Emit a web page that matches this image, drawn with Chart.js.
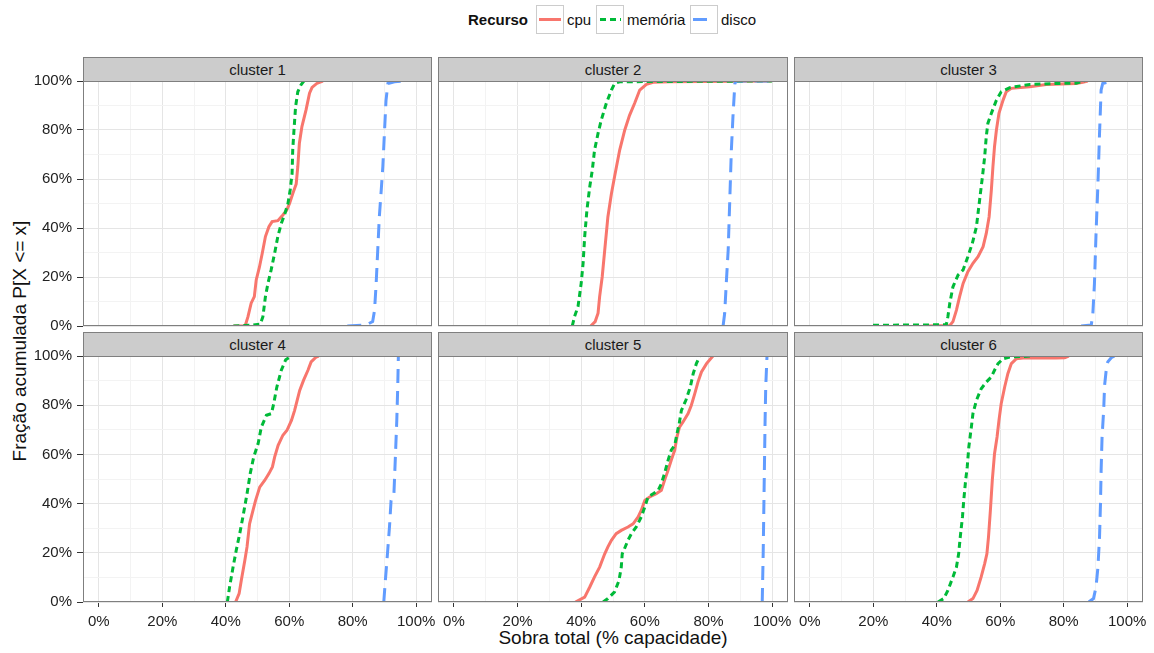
<!DOCTYPE html>
<html><head><meta charset="utf-8">
<script src="https://cdn.jsdelivr.net/npm/chart.js@4.4.0/dist/chart.umd.min.js"></script>
<style>
body{margin:0;width:1154px;height:653px;background:#fff;position:relative;overflow:hidden;font-family:"Liberation Sans",Arial,sans-serif;color:#111;}
.strip{position:absolute;background:#cccccc;border:1px solid #7f7f7f;box-sizing:border-box;text-align:center;font-size:15px;line-height:23px;color:#1a1a1a;}
canvas{position:absolute;}
.lg{position:absolute;font-size:15px;line-height:18px;top:11px;}
</style></head><body>

<div class="lg" style="left:468px;font-weight:bold;">Recurso</div>
<svg style="position:absolute;left:0;top:0" width="1154" height="40">
  <rect x="536.5" y="5.5" width="27" height="28" fill="#fff" stroke="#cccccc"/>
  <line x1="539" y1="19.5" x2="561" y2="19.5" stroke="#F8766D" stroke-width="3"/>
  <rect x="596.5" y="5.5" width="27" height="28" fill="#fff" stroke="#cccccc"/>
  <line x1="599" y1="19.5" x2="621" y2="19.5" stroke="#00BA38" stroke-width="3" stroke-dasharray="6,4" stroke-dashoffset="-1"/>
  <rect x="690.5" y="5.5" width="27" height="28" fill="#fff" stroke="#cccccc"/>
  <line x1="693" y1="19.5" x2="715" y2="19.5" stroke="#619CFF" stroke-width="3" stroke-dasharray="14,8"/>
</svg>
<div class="lg" style="left:567px;">cpu</div>
<div class="lg" style="left:627px;">memória</div>
<div class="lg" style="left:721px;">disco</div>

<div style="position:absolute;left:-180px;top:329px;width:400px;text-align:center;font-size:19px;line-height:24px;transform:rotate(-90deg);">Fração acumulada P[X &lt;= x]</div>
<div style="position:absolute;left:363px;top:626px;width:500px;text-align:center;font-size:19px;line-height:24px;">Sobra total (% capacidade)</div>

<script>
// ---------- data (x = sobra %, y = fração acumulada %) ----------
const clusterNames = ["cluster 1","cluster 2","cluster 3","cluster 4","cluster 5","cluster 6"];
const seriesNames = ["cpu","memória","disco"];
const tickValues = [0,10,20,30,40,50,60,70,80,90,100];

const c1CpuX = [42.4,46.1,47,48,49,49.6,50.6,51.5,52.5,53.6,54.6,56.4,58,59.2,60.1,61.1,62.2,62.7,63.2,64,65.3,66.4,67.2,68.7,70.6];
const c1CpuY = [0,0,3.8,9.3,12,18.8,24,29.7,36.5,40.5,42.6,43,45.3,47.3,50,54,58,65,74.6,81.4,88.2,95,97.4,99,100];
const c1MemX = [42.4,48.7,50.9,51.7,52.5,53.3,54.3,55.4,56.4,57.5,58.5,59.6,60.3,60.9,61.1,61.5,62,62.7,63.7,64.6];
const c1MemY = [0,0.4,0.8,3.8,12,17.4,22.9,29.7,36.5,41.9,45.3,50,55.5,62.3,71.8,80,89.5,95.6,98.4,100];
const c1DskX = [78.3,84.2,86.3,86.9,87.4,87.9,88.4,89,89.5,90,90.5,91.1,93.2,95.8];
const c1DskY = [0,0.4,1.8,6.5,17.4,31,44.6,55.5,65,78.6,92,99,99.7,100];

const c2CpuX = [43,44.4,45.3,45.8,46.6,47.4,48.4,49.5,50.5,52.1,53.7,55.2,56.8,58.4,60.5,62.6,67.8,99.8];
const c2CpuY = [0,1.8,5.2,12,20,31,44.6,54,61,71.8,80,86,90.9,96.3,98.6,99.5,99.7,100];
const c2MemX = [37.2,37.9,39,40,40.6,41.1,41.8,42.7,43.5,44.2,45.3,46.3,47.9,49.5,50.5,52.1,65.7,100];
const c2MemY = [0,3.8,7.9,17.4,25.6,36.5,47.3,56.9,63.7,71.8,78.6,84,90.9,96.3,99,99.7,99.8,100];
const c2DskX = [84.6,85.1,85.6,86.2,86.7,87.2,87.7,88.3,88.8,99.8];
const c2DskY = [0,5.2,17.4,31,51.4,71.8,85.4,99,100,100];

const c3CpuX = [36.7,44.1,45.1,46.2,47.2,48.3,49.8,51.4,53,54.6,55.6,56.5,57.2,57.7,58.2,58.8,59.6,60.9,61.9,63.5,69.3,74.5,83.9,86,87.6];
const c3CpuY = [0,0.2,1.8,6.5,12,17.4,22.2,25.6,28.3,32.4,37.8,44.6,55.5,65,73.2,80,86.8,92.2,95.6,97,97.7,98.6,99,99.5,100];
const c3MemX = [19.9,43,43.5,44.1,45.1,46.7,48.3,49.8,51.2,52.5,53.5,54.4,55.1,55.6,56.1,57.2,58.8,60.3,63,69.3,77.6,83.9,86.6];
const c3MemY = [0.3,0.5,3.8,9.3,16,20.8,22.9,28.3,33.7,40.5,51.4,61,69.1,77.3,82.7,86.8,92.2,95.6,97.3,98.6,99,99.1,100];
const c3DskX = [85.5,88.7,89.2,89.7,90.2,90.8,91.3,91.8,92.3,95.5];
const c3DskY = [0,0.4,5.2,17.4,37.8,58.2,78.6,96.3,99,100];

const c4CpuX = [43.1,44.2,44.9,46,46.7,47.5,48.6,49.4,50.7,52.3,53.6,54.7,55.4,56.5,58,59.3,60.7,61.7,62.5,63.3,64.5,65.9,66.9,68.5,69.3];
const c4CpuY = [0,3.4,8.8,16.9,22.4,31.8,37.3,41.3,46.7,49.5,52.2,54.9,58.9,63.7,67.8,69.8,73.8,77.9,82,86,90.1,94.2,97.6,99.6,100];
const c4MemX = [40.5,41.2,42.3,43.3,44.4,45.4,46.7,47.7,48.8,50.2,51.2,52.8,54.4,55.1,56.1,57.5,58.9,60.7];
const c4MemY = [0,6.1,14.2,21,27.8,34.6,44,52.2,58.9,64.4,71.1,75.9,76.6,80.6,87.4,94.2,98.5,100];
const c4DskX = [89.8,90.3,90.8,91.6,92.1,93,93.5,93.9,94.2,94.4];
const c4DskY = [0,8.8,16.9,30.5,41.3,44,60.3,73.8,87.4,100];

const c5CpuX = [38.2,41.1,42.7,44.2,45.8,47.4,48.4,49.5,51,52.6,54.7,56.3,57.9,58.9,60,61.5,63.6,65.2,66.2,67.3,68.3,69.4,70.1,70.9,72,73.6,74.6,75.7,76.7,77.8,79.4,81.4];
const c5CpuY = [0,2,6.1,10.2,14.2,19.6,22.4,25.1,27.8,29.1,30.5,31.8,34.6,37.3,41.3,42.7,44,45.4,49.5,53.5,57.6,61.7,67.1,71.1,73.2,76.6,79.9,84.7,89.4,93.5,96.9,100];
const c5MemX = [46.9,48.4,50.5,51.9,52.6,52.9,53.4,54.7,55.8,57.3,58.9,60,61,62.6,64.2,65.2,66.2,67.3,68.3,69.4,70.1,70.8,71.5,72.9,74.3,75.2,76.2,77.3];
const c5MemY = [0,1.4,4.1,8.8,14.2,19.6,21,25.1,27.8,30.5,34.6,38.6,42.7,44,45.4,48.1,52.2,57.6,61.7,63.7,68.4,72.5,77.9,82,87.4,92.8,96.9,100];
const c5DskX = [96.9,97.2,97.5,97.8,98,98.4];
const c5DskY = [0,19.6,46.7,73.8,87.4,100];

const c6CpuX = [49.8,51.4,52.7,54,55.1,55.8,56.3,56.9,57.5,58.2,59,59.6,60.3,61.4,62.4,63.5,65.1,67.2,77.6,80.3,81.6];
const c6CpuY = [0,1.4,4.7,10.2,15.6,19.6,26.4,37.3,49.5,60.3,67.1,73.8,80.6,87.4,92.8,96.9,98.9,99.2,99.2,99.3,100];
const c6MemX = [40.4,42.2,43.5,45.1,46.2,46.9,47.4,48.1,48.5,49.1,49.6,50.1,50.9,51.4,52.5,54,55.6,57.2,58.2,59.3,60.9,63,70.3];
const c6MemY = [0,1.4,4.7,10.2,14.2,19.6,26.4,34.6,41.3,49.5,54.9,63,71.1,76.6,82,86.7,89.4,91.5,94.2,96.9,98.9,99.6,100];
const c6DskX = [87.9,89.4,90.2,90.8,91.3,91.6,91.8,92.1,92.6,92.9,93.4,93.9,95,96];
const c6DskY = [0,1.4,6.1,14.2,26.4,40,53.5,67.1,77.9,88.1,94.2,97.6,99.3,100];

const clusterSeries = [
  [[c1CpuX,c1CpuY],[c1MemX,c1MemY],[c1DskX,c1DskY]],
  [[c2CpuX,c2CpuY],[c2MemX,c2MemY],[c2DskX,c2DskY]],
  [[c3CpuX,c3CpuY],[c3MemX,c3MemY],[c3DskX,c3DskY]],
  [[c4CpuX,c4CpuY],[c4MemX,c4MemY],[c4DskX,c4DskY]],
  [[c5CpuX,c5CpuY],[c5MemX,c5MemY],[c5DskX,c5DskY]],
  [[c6CpuX,c6CpuY],[c6MemX,c6MemY],[c6DskX,c6DskY]]
];

// ---------- styles ----------
const seriesColors = ["#F8766D","#00BA38","#619CFF"];
const seriesDash = [[],[6,4],[14,8]];
const FONT = '"Liberation Sans", Arial, sans-serif';
const colLeft = [83, 438, 794], colRight = [432, 788, 1143];
const rowTop = [81, 356], rowBottom = [326, 602];
const M = 24, XAXIS_H = 32, YAXIS_W = 83;

const borderPlugin = {
  id: 'panelBorder',
  afterDraw(chart) {
    const a = chart.chartArea, c = chart.ctx;
    c.save();
    c.strokeStyle = '#7f7f7f'; c.lineWidth = 1;
    c.strokeRect(a.left + 0.5, a.top + 0.5, a.right - a.left - 1, a.bottom - a.top - 1);
    c.restore();
  }
};

function isMajor(v){ return Math.round(v) % 20 === 0; }

clusterNames.forEach((name, idx) => {
  const col = idx % 3, row = Math.floor(idx / 3);
  const showY = col === 0, showX = row === 1;
  const pl = colLeft[col], pr = colRight[col], pt = rowTop[row], pb = rowBottom[row];

  // strip
  const s = document.createElement('div');
  s.className = 'strip';
  s.textContent = name;
  s.style.left = pl + 'px'; s.style.width = (pr - pl) + 'px';
  s.style.top = (pt - 24) + 'px'; s.style.height = '25px';
  document.body.appendChild(s);

  const cl = showY ? 0 : pl - M;
  const cr = pr + M;
  const ct = pt - M;
  const cb = showX ? pb + XAXIS_H : pb + M;
  const cv = document.createElement('canvas');
  cv.width = cr - cl; cv.height = cb - ct;
  cv.style.left = cl + 'px'; cv.style.top = ct + 'px';
  cv.style.width = cv.width + 'px'; cv.style.height = cv.height + 'px';
  document.body.appendChild(cv);

  const datasets = clusterSeries[idx].map((xy, k) => ({
    label: seriesNames[k],
    data: xy[0].map((x, i) => ({x: x, y: xy[1][i]})),
    borderColor: seriesColors[k],
    borderWidth: 3,
    borderDash: seriesDash[k],
    pointRadius: 0,
    tension: 0,
    fill: false,
    clip: 0,
    order: 2 - k
  }));

  const tickFn = (sc) => { sc.ticks = tickValues.map(v => ({value: v})); };
  const gridColor = (ctx) => (ctx.tick && isMajor(ctx.tick.value)) ? '#E5E5E5' : '#F3F3F3';
  const tickColor = (ctx) => (ctx.tick && isMajor(ctx.tick.value)) ? '#333333' : 'rgba(0,0,0,0)';

  new Chart(cv, {
    type: 'line',
    data: { datasets },
    plugins: [borderPlugin],
    options: {
      responsive: false, animation: false, events: [],
      layout: { padding: { left: showY ? 0 : M, right: M, top: M, bottom: showX ? 0 : M } },
      plugins: { legend: { display: false }, tooltip: { enabled: false } },
      scales: {
        x: {
          type: 'linear', min: -5, max: 105,
          afterBuildTicks: tickFn,
          afterFit: (sc) => { sc.height = showX ? XAXIS_H : 0; },
          border: { display: false },
          grid: { color: gridColor, tickColor: tickColor, tickLength: 5, drawTicks: showX, lineWidth: 1 },
          ticks: { display: showX, autoSkip: false, maxRotation: 0, padding: 6, color: '#222',
                   font: { size: 15, family: FONT },
                   callback: (v) => isMajor(v) ? v + '%' : '' }
        },
        y: {
          type: 'linear', min: 0, max: 100,
          afterBuildTicks: tickFn,
          afterFit: (sc) => { sc.width = showY ? YAXIS_W : 0; },
          border: { display: false },
          grid: { color: gridColor, tickColor: tickColor, tickLength: 6, drawTicks: showY, lineWidth: 1 },
          ticks: { display: showY, autoSkip: false, padding: 5, color: '#222',
                   font: { size: 15, family: FONT },
                   callback: (v) => isMajor(v) ? v + '%' : '' }
        }
      }
    }
  });
});
</script>
</body></html>
